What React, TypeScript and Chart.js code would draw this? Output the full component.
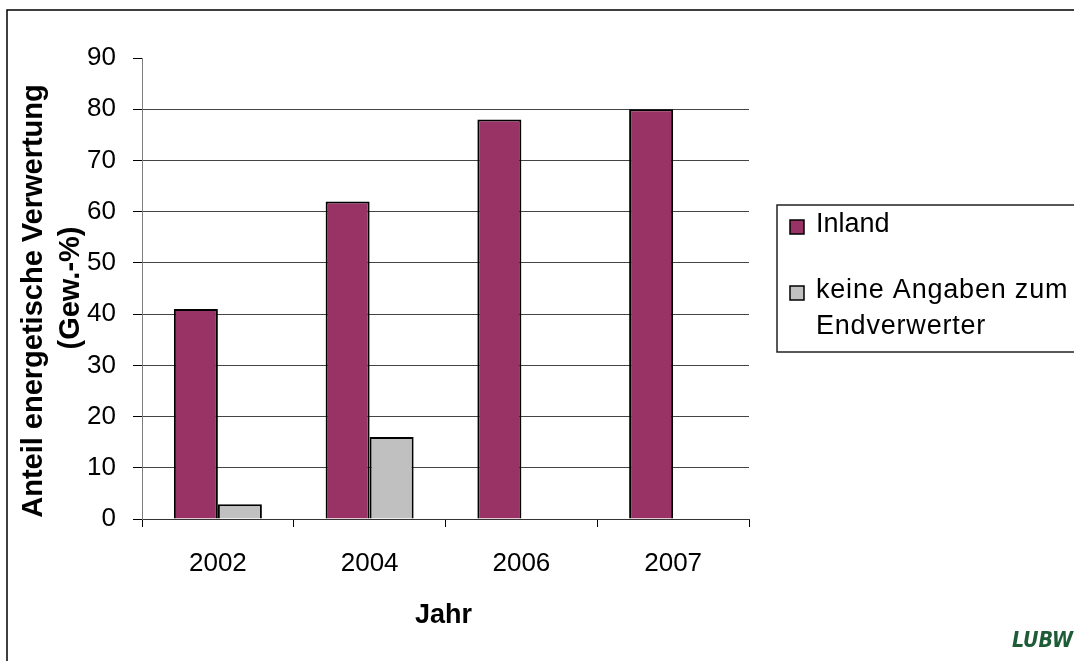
import React, { useEffect, useRef } from "react";
import { Chart, registerables } from "chart.js";

Chart.register(...registerables);

const categories = ["2002", "2004", "2006", "2007"];
const inlandValues = [41, 62, 78, 80];
const unknownValues: (number | null)[] = [2.9, 16, null, null];
const seriesLabels = ["Inland", "keine Angaben zum Endverwerter"];
const seriesColors = ["#993366", "#C0C0C0"];
const yTicks = [0, 10, 20, 30, 40, 50, 60, 70, 80, 90];
const yTitleLines = ["Anteil energetische Verwertung", "(Gew.-%)"];
const xTitle = "Jahr";
const logoText = "LUBW";

const FONT = "'Liberation Sans', Arial, sans-serif";

const decorPlugin = {
  id: "decor",
  afterDraw(chart: any) {
    const ctx = chart.ctx as CanvasRenderingContext2D;
    ctx.save();
    // outer frame
    ctx.strokeStyle = "#000";
    ctx.lineWidth = 1.5;
    ctx.strokeRect(7, 10, 1200, 800);

    // y title
    ctx.fillStyle = "#000";
    ctx.font = `bold 29px ${FONT}`;
    ctx.textAlign = "center";
    ctx.textBaseline = "alphabetic";
    const area = chart.chartArea;
    ctx.save();
    ctx.translate(42, 301);
    ctx.rotate(-Math.PI / 2);
    ctx.fillText(yTitleLines[0], 0, 0);
    ctx.restore();
    ctx.save();
    ctx.translate(79, 288);
    ctx.rotate(-Math.PI / 2);
    ctx.fillText(yTitleLines[1], 0, 0);
    ctx.restore();

    // x title
    ctx.font = `bold 27px ${FONT}`;
    ctx.textBaseline = "alphabetic";
    ctx.fillText(xTitle, (area.left + area.right) / 2 - 2, 623);

    // legend
    ctx.strokeStyle = "#222";
    ctx.lineWidth = 1.5;
    ctx.strokeRect(777, 205, 400, 147);
    const ds = chart.data.datasets;
    const sw = [
      { x: 790, y: 220 },
      { x: 790, y: 286 },
    ];
    for (let i = 0; i < ds.length; i++) {
      ctx.fillStyle = ds[i].backgroundColor;
      ctx.fillRect(sw[i].x, sw[i].y, 14, 14);
      ctx.strokeStyle = "#000";
      ctx.lineWidth = 1.5;
      ctx.strokeRect(sw[i].x, sw[i].y, 14, 14);
    }
    ctx.font = `27px ${FONT}`;
    ctx.textAlign = "left";
    ctx.textBaseline = "middle";
    ctx.fillStyle = "#000";
    ctx.fillText(ds[0].label, 816, 225);
    const words = (ds[1].label as string).split(" ");
    (ctx as any).letterSpacing = "0.8px";
    ctx.fillText(words.slice(0, 3).join(" "), 816, 291);
    ctx.fillText(words.slice(3).join(" "), 816, 327);
    (ctx as any).letterSpacing = "0px";

    // logo
    ctx.fillStyle = "#1d5c37";
    ctx.font = `italic bold 22px 'Liberation Sans Narrow', 'DejaVu Sans Condensed', ${FONT}`;
    ctx.textAlign = "left";
    ctx.textBaseline = "alphabetic";
    const w = ctx.measureText(logoText).width;
    ctx.save();
    ctx.translate(1012, 647);
    ctx.scale(61 / w, 1);
    ctx.fillText(logoText, 0, 0);
    ctx.restore();
    ctx.restore();
  },
};

export default function App() {
  const ref = useRef<HTMLCanvasElement | null>(null);
  useEffect(() => {
    if (!ref.current) return;
    const chart = new Chart(ref.current, {
      type: "bar",
      data: {
        labels: categories,
        datasets: [
          {
            label: seriesLabels[0],
            data: inlandValues,
            backgroundColor: seriesColors[0],
            borderColor: "#000",
            borderWidth: 2,
            categoryPercentage: 0.58,
            barPercentage: 1.0,
          },
          {
            label: seriesLabels[1],
            data: unknownValues,
            backgroundColor: seriesColors[1],
            borderColor: "#000",
            borderWidth: 2,
            categoryPercentage: 0.58,
            barPercentage: 1.0,
          },
        ],
      },
      options: {
        responsive: false,
        animation: false,
        layout: { padding: { left: 0, top: 58, right: 325, bottom: 0 } },
        plugins: {
          legend: { display: false },
          tooltip: { enabled: false },
          title: { display: false },
        },
        scales: {
          x: {
            afterFit: (s: any) => {
              s.height = 142;
            },
            grid: {
              offset: true,
              drawOnChartArea: false,
              drawTicks: true,
              tickLength: 8,
              tickColor: "#000",
            },
            border: { color: "#333", width: 1 },
            ticks: {
              color: "#000",
              font: { family: FONT, size: 26 },
              padding: 21,
              maxRotation: 0,
            },
          },
          y: {
            min: 0,
            max: 90,
            afterFit: (s: any) => {
              s.width = 142;
            },
            afterBuildTicks: (s: any) => {
              s.ticks = yTicks.map((v) => ({ value: v }));
            },
            grid: {
              color: (c: any) =>
                c.tick && c.tick.value === 90 ? "rgba(0,0,0,0)" : "#444",
              lineWidth: 1,
              tickLength: 9,
              tickColor: "#000",
            },
            border: { color: "#808080", width: 1 },
            ticks: {
              color: "#000",
              font: { family: FONT, size: 26 },
              padding: 17,
            },
          },
        },
      },
      plugins: [decorPlugin],
    });
    return () => chart.destroy();
  }, []);
  return (
    <div
      style={{
        position: "fixed",
        left: 0,
        top: 0,
        width: 1074,
        height: 661,
        background: "#fff",
      }}
    >
      <canvas
        ref={ref}
        width={1074}
        height={661}
        style={{ display: "block", width: 1074, height: 661 }}
      />
    </div>
  );
}
